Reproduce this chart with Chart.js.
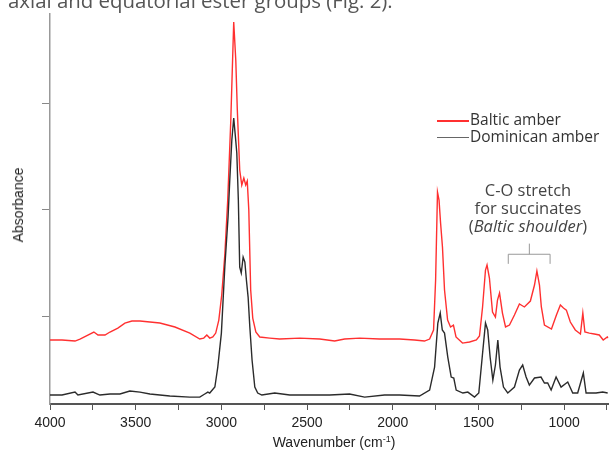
<!DOCTYPE html>
<html>
<head>
<meta charset="utf-8">
<script src="https://cdn.jsdelivr.net/npm/chart.js@4.4.0/dist/chart.umd.min.js"></script>
<style>
  body { margin: 0; background: #fff; }
  #wrap { position: relative; width: 612px; height: 456px; overflow: hidden; }
  #cvs { position: absolute; left: 0; top: 0; }
  .txt { position: absolute; white-space: nowrap; }
  .intro { left: 8px; top: -14px; font: 20.4px 'Open Sans', sans-serif; color: #555; }
  .leg { left: 437px; font: 15.5px 'Open Sans', sans-serif; color: #333; line-height: 17px; }
  .leg span { display: inline-block; width: 32px; vertical-align: middle; margin-right: 1px; }
  .note { left: 443px; top: 181px; width: 170px; text-align: center; font: 16.5px 'Open Sans', sans-serif; color: #444; line-height: 18px; }
  .ytitle { left: 18px; top: 205px; transform: translate(-50%, -50%) rotate(-90deg); font: 14px 'Liberation Sans', Arial, sans-serif; color: #222; }
  .xtitle { left: 334px; top: 442px; transform: translate(-50%, -50%); font: 14px 'Liberation Sans', Arial, sans-serif; color: #222; }
  .xtitle sup { font-size: 9px; }
</style>
</head>
<body>
<div id="wrap">
  <canvas id="cvs" width="612" height="456"></canvas>
  <div class="txt intro">axial and equatorial ester groups (Fig. 2).</div>
  <div class="txt leg" style="top:111px"><span style="border-top:2px solid #ff3030"></span>Baltic amber</div>
  <div class="txt leg" style="top:128px"><span style="border-top:1.5px solid #666"></span>Dominican amber</div>
  <div class="txt note">C-O stretch<br>for succinates<br>(<i>Baltic shoulder</i>)</div>
  <div class="txt ytitle">Absorbance</div>
  <div class="txt xtitle">Wavenumber (cm<sup>-1</sup>)</div>
</div>
<script>
// FTIR spectra: wavenumber (cm-1) and absorbance (arbitrary, offset traces)
const balticWn = [4000,3930,3854,3825,3744,3720,3679,3650,3604,3563,3522,3475,3417,3359,3271,3184,3126,3103,3085,3068,3050,3033,3015,2998,2980,2963,2945,2928,2916,2907,2893,2881,2869,2858,2849,2840,2829,2817,2799,2776,2718,2660,2543,2426,2339,2281,2193,2077,1960,1873,1815,1785,1762,1750,1739,1730,1721,1710,1698,1680,1663,1646,1631,1593,1552,1512,1494,1476,1459,1450,1436,1418,1401,1389,1377,1360,1342,1319,1290,1261,1232,1197,1173,1159,1144,1133,1115,1074,1045,1022,1004,987,964,935,905,891,879,853,824,795,772,748,742];
const balticAbs = [0.775,0.775,0.765,0.784,0.850,0.822,0.822,0.850,0.887,0.934,0.953,0.953,0.944,0.934,0.897,0.840,0.784,0.793,0.822,0.793,0.803,0.840,0.962,1.197,1.573,2.089,2.840,3.761,3.404,2.934,2.371,2.230,2.296,2.230,2.268,1.995,1.244,0.981,0.850,0.803,0.793,0.784,0.793,0.784,0.765,0.784,0.793,0.784,0.784,0.775,0.765,0.784,0.869,1.338,2.164,2.089,1.873,1.648,1.244,0.962,0.897,0.915,0.803,0.746,0.756,0.775,0.812,1.085,1.432,1.479,1.357,1.038,0.991,1.150,1.216,1.028,0.897,0.915,1.009,1.113,1.085,1.141,1.291,1.423,1.291,1.085,0.915,0.878,1.009,1.103,1.075,1.056,0.944,0.869,0.831,1.028,0.850,0.840,0.831,0.822,0.775,0.803,0.793];

const domWn = [4000,3930,3854,3837,3749,3709,3650,3592,3534,3475,3417,3301,3184,3126,3097,3079,3068,3038,3021,3000,2980,2961,2951,2939,2928,2919,2910,2901,2893,2884,2873,2863,2854,2844,2834,2821,2805,2788,2764,2689,2601,2485,2368,2252,2164,2048,1960,1844,1785,1756,1737,1723,1711,1698,1679,1659,1644,1630,1591,1562,1523,1498,1478,1459,1446,1432,1416,1401,1387,1374,1354,1329,1290,1261,1242,1222,1203,1173,1135,1115,1096,1076,1047,1018,979,950,921,888,872,814,775,746];
const domAbs = [0.258,0.258,0.286,0.258,0.286,0.258,0.268,0.268,0.296,0.286,0.268,0.249,0.239,0.239,0.268,0.286,0.277,0.333,0.521,0.840,1.460,1.930,2.277,2.653,2.859,2.700,2.531,2.089,1.460,1.404,1.554,1.507,1.338,1.178,0.897,0.587,0.333,0.277,0.258,0.277,0.258,0.258,0.258,0.268,0.239,0.258,0.258,0.249,0.305,0.521,0.934,1.028,0.869,0.840,0.615,0.427,0.418,0.305,0.277,0.286,0.239,0.277,0.615,0.934,0.869,0.615,0.399,0.540,0.775,0.521,0.333,0.277,0.333,0.493,0.540,0.427,0.352,0.418,0.427,0.371,0.371,0.305,0.427,0.333,0.380,0.277,0.277,0.465,0.277,0.277,0.286,0.277];

const xTicks = [4000,3750,3500,3250,3000,2750,2500,2250,2000,1750,1500,1250,1000,750];
const yTicks = [1, 2, 3];

// bracket over the succinate shoulder (wavenumber span, absorbance level)
const bracketFrom = 1326, bracketTo = 1082, bracketMid = 1203;

const toPts = (wn, ab) => wn.map((w, i) => ({ x: w, y: ab[i] }));

const bracketPlugin = {
    id: 'bracket',
    afterDraw(chart) {
        const { ctx, scales: { x, y } } = chart;
        const x1 = x.getPixelForValue(bracketFrom), x2 = x.getPixelForValue(bracketTo), xm = x.getPixelForValue(bracketMid);
        const yb = y.getPixelForValue(1.58), ye = y.getPixelForValue(1.49), yt = y.getPixelForValue(1.68);
        ctx.save(); ctx.strokeStyle = '#999'; ctx.lineWidth = 1;
        ctx.beginPath();
        ctx.moveTo(x1, ye); ctx.lineTo(x1, yb); ctx.lineTo(x2, yb); ctx.lineTo(x2, ye);
        ctx.moveTo(xm, yb); ctx.lineTo(xm, yt);
        ctx.stroke(); ctx.restore();
    }
};

new Chart(document.getElementById('cvs').getContext('2d'), {
    type: 'line',
    data: { datasets: [
        { label: 'Dominican amber', data: toPts(domWn, domAbs), borderColor: '#2b2b2b', borderWidth: 1.4, pointRadius: 0, tension: 0 },
        { label: 'Baltic amber', data: toPts(balticWn, balticAbs), borderColor: '#ff3030', borderWidth: 1.4, pointRadius: 0, tension: 0 }
    ] },
    options: {
        responsive: false, animation: false,
        layout: { padding: { left: 0, right: 3, top: 14, bottom: 0 } },
        plugins: { legend: { display: false }, tooltip: { enabled: false } },
        scales: {
            x: { type: 'linear', reverse: true, min: 742, max: 4000,
                afterBuildTicks: s => { s.ticks = xTicks.map(v => ({ value: v })); },
                afterFit: s => { s.height = 52; },
                ticks: { autoSkip: false, maxRotation: 0, padding: 5, color: '#222', font: { family: "'Liberation Sans', Arial, sans-serif", size: 14 }, callback: v => (v % 500 === 0 ? String(v) : '') },
                grid: { drawOnChartArea: false, tickLength: 6, color: '#555' },
                border: { color: '#555', width: 2 } },
            y: { min: 0.174, max: 3.836,
                afterBuildTicks: s => { s.ticks = yTicks.map(v => ({ value: v })); },
                afterFit: s => { s.width = 50; },
                ticks: { display: false },
                grid: { drawOnChartArea: false, tickLength: 8, color: '#888' },
                border: { color: '#999', width: 1.5 } }
        }
    },
    plugins: [bracketPlugin]
});
</script>
</body>
</html>
